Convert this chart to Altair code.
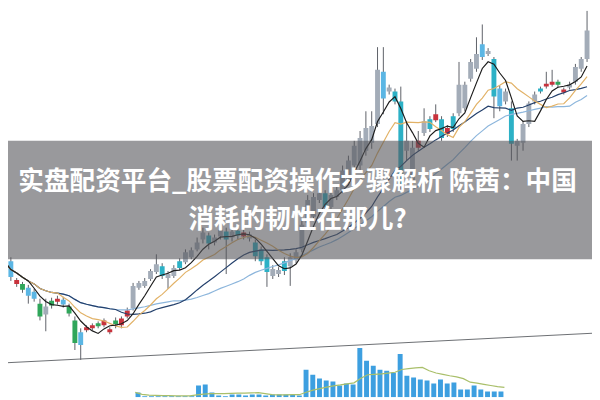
import altair as alt
import pandas as pd

# ---------------- data ----------------
tone = ["b","b","r","n","b","b","n","g","n","r","b","n","n","b","r","r","n","r","r","n",
        "r","r","g","g","g","g","g","t","g","g","t","g","g","g","g","t","g","g","t","g",
        "t","r","g","t","t","t","g","g","t","g","g","g","g","g","g","t","g","g","g","g",
        "g","g","g","g","g","b","g","t","t","g","g","r","g","t","r","t","r","t","g","g",
        "g","g","b","g","t","b","g","t","g","g","g","g","t","r","r","n","r","g","g","g",
        "g"]
open_ = [3.47,3.38,3.15,3.15,3.11,3.07,2.95,2.84,2.98,2.97,2.99,2.92,2.78,2.66,2.68,2.70,2.75,2.73,2.66,2.78,
         2.73,2.82,2.90,3.11,3.13,3.20,3.27,3.33,3.21,3.23,3.38,3.37,3.42,3.50,3.60,3.64,3.57,3.63,3.68,3.62,
         3.69,3.63,3.61,3.57,3.50,3.42,3.23,3.25,3.38,3.33,3.39,3.50,3.77,3.83,4.00,4.07,3.93,4.03,4.10,4.20,
         4.35,4.35,4.50,4.58,4.77,5.30,5.10,5.10,5.00,4.50,4.20,4.53,4.68,4.82,4.81,4.82,4.67,4.85,4.88,4.93,
         5.23,5.33,5.58,5.48,5.43,5.13,5.00,4.93,4.55,4.58,4.77,5.00,5.13,5.15,5.17,5.20,5.09,5.14,5.20,5.33,
         5.43]
high = [3.53,3.42,3.21,3.17,3.14,3.10,3.00,3.00,3.01,3.03,3.02,2.95,2.82,2.70,2.73,2.75,2.77,2.80,2.71,2.81,
        2.82,2.91,3.16,3.18,3.21,3.30,3.45,3.36,3.28,3.34,3.41,3.50,3.52,3.62,3.72,3.67,3.65,3.74,3.72,3.71,
        3.72,3.70,3.68,3.60,3.53,3.45,3.34,3.32,3.42,3.46,3.50,3.80,4.05,4.07,4.12,4.10,4.10,4.14,4.35,4.45,
        4.60,4.70,4.90,4.90,5.55,5.55,5.17,5.13,5.15,4.80,4.60,4.70,4.93,4.85,4.97,4.85,4.76,4.88,5.40,5.20,
        5.43,5.65,5.78,5.54,5.45,5.16,5.13,5.00,4.62,4.80,5.00,5.10,5.15,5.30,5.32,5.22,5.14,5.20,5.38,5.45,
        5.92]
low = [3.30,3.18,3.12,3.06,2.95,2.97,2.78,2.67,2.90,2.94,2.91,2.82,2.48,2.38,2.66,2.68,2.70,2.71,2.64,2.70,
       2.70,2.80,2.88,3.09,3.11,3.18,3.25,3.20,3.10,3.21,3.29,3.35,3.40,3.48,3.56,3.50,3.54,3.60,3.25,3.58,
       3.60,3.60,3.58,3.38,3.34,3.12,3.20,3.22,3.24,3.13,3.36,3.47,3.72,3.80,3.97,3.90,3.90,4.00,4.07,4.17,
       4.32,4.30,4.45,4.52,4.74,4.87,5.07,4.97,4.10,4.40,4.15,4.50,4.65,4.69,4.79,4.60,4.64,4.69,4.85,4.90,
       5.20,5.30,5.42,5.46,4.83,4.90,4.97,4.40,4.40,4.50,4.74,4.97,5.08,5.13,5.15,5.14,5.07,5.12,5.17,5.30,
       5.40]
close = [3.37,3.22,3.19,3.09,3.03,3.00,2.82,2.92,2.93,3.00,2.94,2.85,2.55,2.53,2.71,2.73,2.72,2.78,2.69,2.74,
         2.80,2.88,3.13,3.16,3.18,3.28,3.35,3.23,3.25,3.31,3.31,3.47,3.49,3.57,3.67,3.56,3.62,3.70,3.60,3.68,
         3.64,3.67,3.65,3.43,3.38,3.27,3.30,3.29,3.28,3.42,3.47,3.75,4.00,4.03,4.07,3.93,4.05,4.10,4.30,4.40,
         4.55,4.63,4.73,4.75,5.32,5.03,5.14,5.00,4.15,4.60,4.53,4.60,4.80,4.72,4.87,4.63,4.73,4.72,5.17,5.17,
         5.40,5.48,5.45,5.51,5.05,4.95,5.10,4.57,4.60,4.77,4.98,5.07,5.10,5.18,5.20,5.17,5.12,5.17,5.35,5.43,
         5.72]

volume = [0.5,0.1,0.1,0.1,0.1,0.1,0.1,0.1,0.1,1.2,1.3,0.5,0.2,0.1,0.3,0.3,0.2,0.3,0.3,0.2,
          0.3,0.3,0.3,0.3,0.2,2.8,2.3,1.9,1.7,1.6,1.2,1.4,1.3,5.0,3.7,3.2,2.8,2.7,2.5,4.4,
          2.2,2.0,1.8,1.7,1.4,1.8,1.4,1.5,0.8,0.8,1.2,0.8,0.6,0.6,0.6]

trend_day = [0, 101]
trend_val = [2.35, 2.65]

title_lines = ["实盘配资平台_股票配资操作步骤解析 陈茜：中国", "消耗的韧性在那儿?"]

# ---------------- frames ----------------
df = pd.DataFrame({"day": list(range(len(close))), "open": open_, "high": high,
                   "low": low, "close": close, "tone": tone})
vdf = pd.DataFrame({"vday": list(range(len(volume))), "vol": volume})
tdf = pd.DataFrame({"day": trend_day, "val": trend_val})

W, H = 592, 392
xs = alt.Scale(domain=[0.508, 100.85], nice=False, zero=False)
ys = alt.Scale(domain=[2.0, 5.92], nice=False, zero=False)
vxs = alt.Scale(domain=[-18.61, 66.81], nice=False, zero=False)
vys = alt.Scale(domain=[0, 39.2], nice=False, zero=False)

tone_scale = alt.Scale(domain=["g", "t", "b", "r", "n"],
                       range=["#a3acb8", "#2cb1c6", "#5bb6e4", "#c8323c", "#2fa65a"])

base = alt.Chart(df)

trend = alt.Chart(tdf).mark_line(color="#6b6e72", strokeWidth=1, clip=True).encode(
    x=alt.X("day:Q", scale=xs, axis=None), y=alt.Y("val:Q", scale=ys, axis=None))

vbars = alt.Chart(vdf).mark_bar(color="#3d9fe0", size=5, clip=True).encode(
    x=alt.X("vday:Q", scale=vxs, axis=None), y=alt.Y("vol:Q", scale=vys, axis=None))

vma = alt.Chart(vdf).transform_window(
    vma="mean(vol)", frame=[-9, 0], sort=[alt.SortField("vday")]
).mark_line(color="#a9bf6a", strokeWidth=1.2, clip=True).encode(
    x=alt.X("vday:Q", scale=vxs, axis=None), y=alt.Y("vma:Q", scale=vys, axis=None))

wicks = base.mark_rule(color="#5d6168", strokeWidth=1, clip=True).encode(
    x=alt.X("day:Q", scale=xs, axis=None),
    y=alt.Y("low:Q", scale=ys, axis=None), y2="high:Q")

bodies = base.transform_calculate(
    xl="datum.day - 0.42", xr="datum.day + 0.42"
).mark_rect(clip=True).encode(
    x=alt.X("xl:Q", scale=xs, axis=None), x2="xr:Q",
    y=alt.Y("open:Q", scale=ys, axis=None), y2="close:Q",
    color=alt.Color("tone:N", scale=tone_scale, legend=None))

def ma(n, color, width=1.2):
    return base.transform_window(
        m=f"mean(close)", frame=[-(n - 1), 0], sort=[alt.SortField("day")]
    ).mark_line(color=color, strokeWidth=width, clip=True).encode(
        x=alt.X("day:Q", scale=xs, axis=None), y=alt.Y("m:Q", scale=ys, axis=None))

ma30 = ma(30, "#8db6dc")
ma20 = ma(20, "#24406c")
ma10 = ma(10, "#e2b267")
ma5 = ma(5, "#1d1d1d")

band = alt.Chart(pd.DataFrame({"k": [0]})).mark_rect(color="#55555a", opacity=0.6).encode(
    x=alt.value(-8), x2=alt.value(W + 8), y=alt.value(132), y2=alt.value(252))

t1 = alt.Chart(pd.DataFrame({"t": [title_lines[0]]})).mark_text(
    font="Noto Sans CJK SC", fontSize=26, fontWeight="bold", color="white",
    align="center", baseline="middle").encode(text="t:N", x=alt.value(293.5), y=alt.value(174))
t2 = alt.Chart(pd.DataFrame({"t": [title_lines[1]]})).mark_text(
    font="Noto Sans CJK SC", fontSize=26, fontWeight="bold", color="white",
    align="center", baseline="middle").encode(text="t:N", x=alt.value(293.5), y=alt.value(212))

chart = alt.layer(trend, vbars, vma, wicks, bodies, ma30, ma20, ma10, ma5, band, t1, t2).resolve_scale(
    x="independent", y="independent"
).properties(
    width=W, height=H, padding=0, background="white",
    autosize=alt.AutoSizeParams(type="none")
).configure_view(stroke=None)

chart.save("out.html", embed_options={"renderer": "svg", "actions": False})
